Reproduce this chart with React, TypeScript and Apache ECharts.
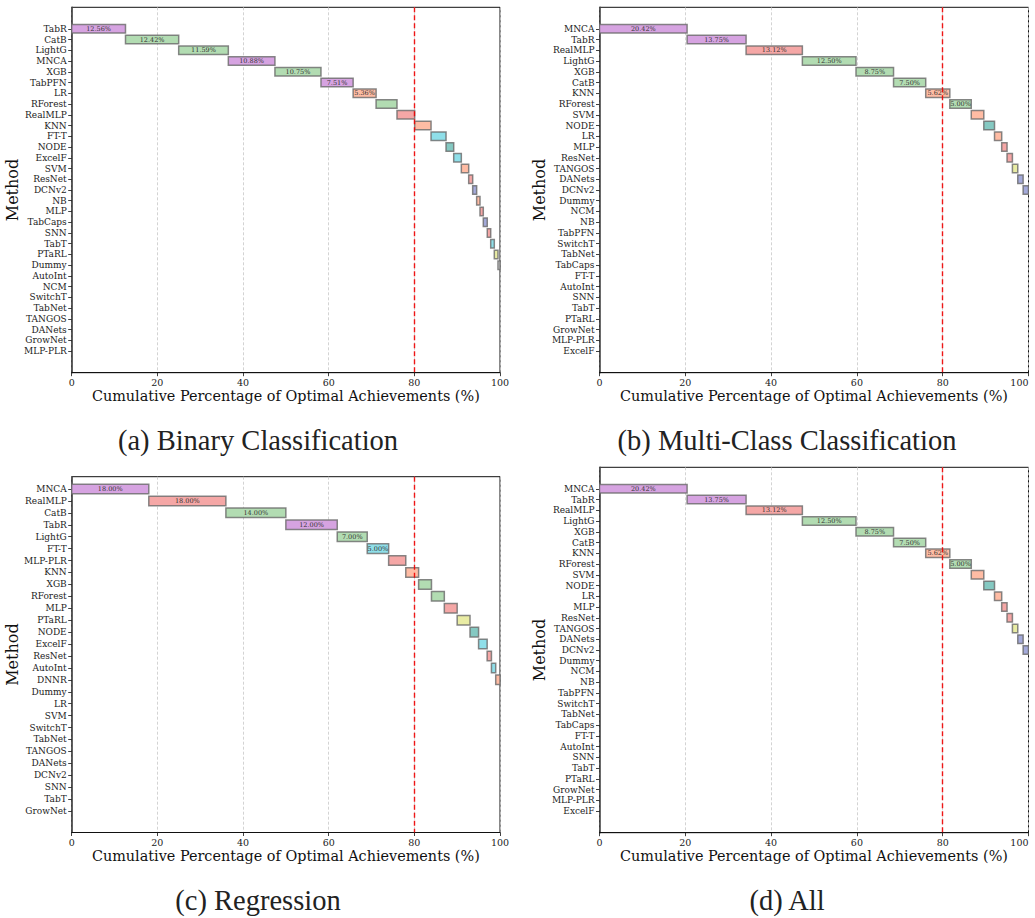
import React, { useEffect, useRef } from 'react';
import * as echarts from 'echarts';

// ---------- data ----------
const binaryMethods = ['TabR','CatB','LightG','MNCA','XGB','TabPFN','LR','RForest','RealMLP','KNN','FT-T','NODE','ExcelF','SVM','ResNet','DCNv2','NB','MLP','TabCaps','SNN','TabT','PTaRL','Dummy','AutoInt','NCM','SwitchT','TabNet','TANGOS','DANets','GrowNet','MLP-PLR'];
const binaryValues = [12.56,12.42,11.59,10.88,10.75,7.51,5.36,4.88,4.13,3.82,3.50,1.79,1.78,1.72,0.93,0.93,0.78,0.77,0.93,0.80,0.84,0.86,0.47,0,0,0,0,0,0,0,0];

const multiMethods = ['MNCA','TabR','RealMLP','LightG','XGB','CatB','KNN','RForest','SVM','NODE','LR','MLP','ResNet','TANGOS','DANets','DCNv2','Dummy','NCM','NB','TabPFN','SwitchT','TabNet','TabCaps','FT-T','AutoInt','SNN','TabT','PTaRL','GrowNet','MLP-PLR','ExcelF'];
const multiValues = [20.42,13.75,13.12,12.50,8.75,7.50,5.62,5.00,2.92,2.50,1.67,1.25,1.25,1.25,1.25,1.25,0,0,0,0,0,0,0,0,0,0,0,0,0,0,0];

const regMethods = ['MNCA','RealMLP','CatB','TabR','LightG','FT-T','MLP-PLR','KNN','XGB','RForest','MLP','PTaRL','NODE','ExcelF','ResNet','AutoInt','DNNR','Dummy','LR','SVM','SwitchT','TabNet','TANGOS','DANets','DCNv2','SNN','TabT','GrowNet'];
const regValues = [18,18,14,12,7,5,4,3,3,3,3,3,2,2,1,1,1,0,0,0,0,0,0,0,0,0,0,0];

const allMethods = ['MNCA','TabR','RealMLP','LightG','XGB','CatB','KNN','RForest','SVM','NODE','LR','MLP','ResNet','TANGOS','DANets','DCNv2','Dummy','NCM','NB','TabPFN','SwitchT','TabNet','TabCaps','FT-T','AutoInt','SNN','TabT','PTaRL','GrowNet','MLP-PLR','ExcelF'];
const allValues = [20.42,13.75,13.12,12.50,8.75,7.50,5.62,5.00,2.92,2.50,1.67,1.25,1.25,1.25,1.25,1.25,0,0,0,0,0,0,0,0,0,0,0,0,0,0,0];

const xTicks = [0, 20, 40, 60, 80, 100];
const threshold = 80;
const captions = ['(a) Binary Classification', '(b) Multi-Class Classification', '(c) Regression', '(d) All'];

// ---------- styles ----------
const PURPLE = '#d6a3e1';
const GREEN = '#b2dcb2';
const PINK = '#f5a7a6';
const SALMON = '#ffbca4';
const CYAN = '#8fdfe9';
const TEAL = '#85c9c2';
const BLUE = '#a4aada';
const YELLOW = '#e9eca4';
const GRAY = '#e2e2e2';

const colorOf: Record<string, string> = {
  MNCA: PURPLE, TabR: PURPLE, TabPFN: PURPLE,
  CatB: GREEN, LightG: GREEN, XGB: GREEN, RForest: GREEN,
  RealMLP: PINK, MLP: PINK, ResNet: PINK, SNN: PINK, 'MLP-PLR': PINK,
  LR: SALMON, KNN: SALMON, SVM: SALMON, NB: SALMON, DNNR: SALMON,
  'FT-T': CYAN, ExcelF: CYAN, TabT: CYAN, AutoInt: CYAN,
  NODE: TEAL,
  DCNv2: BLUE, TabCaps: BLUE, DANets: BLUE,
  PTaRL: YELLOW, TANGOS: YELLOW,
  Dummy: GRAY,
};

const SERIF = '"DejaVu Serif", serif';

const panels = [
  { methods: binaryMethods, values: binaryValues, left: 71.7, top: 7.3, width: 428.3, height: 365.4, ymin: -2, ymax: 32, rightEdge: false },
  { methods: multiMethods, values: multiValues, left: 599.5, top: 7.3, width: 429, height: 365.4, ymin: -2, ymax: 32, rightEdge: true },
  { methods: regMethods, values: regValues, left: 71.7, top: 476.7, width: 428.3, height: 355.8, ymin: -1.03, ymax: 28.8, rightEdge: false },
  { methods: allMethods, values: allValues, left: 599.5, top: 467.3, width: 429, height: 365.4, ymin: -2, ymax: 32, rightEdge: true },
];

const captionPos = [
  { x: 258, y: 440 },
  { x: 787, y: 440 },
  { x: 258, y: 900 },
  { x: 787, y: 900 },
];

function buildOption() {
  const grid: any[] = [];
  const xAxis: any[] = [];
  const yAxis: any[] = [];
  const series: any[] = [];

  panels.forEach((p, gi) => {
    grid.push({
      left: p.left, top: p.top, width: p.width, height: p.height,
      containLabel: false, outerBoundsMode: 'none',
      show: true, borderColor: '#111', borderWidth: 1, backgroundColor: 'transparent',
    });
    xAxis.push({
      type: 'value', gridIndex: gi, min: xTicks[0], max: xTicks[xTicks.length - 1], interval: 20,
      axisLine: { show: true, onZero: false, lineStyle: { color: '#111', width: 1 } },
      axisTick: { show: true, length: 3.5, lineStyle: { color: '#111', width: 0.8 } },
      axisLabel: {
        fontSize: 9.5, color: '#222', fontFamily: SERIF, margin: 4.5,
        alignMaxLabel: p.rightEdge ? 'right' : 'center',
      },
      splitLine: { show: true, lineStyle: { color: '#c8c8c8', type: [3, 2], width: 0.8 } },
      name: 'Cumulative Percentage of Optimal Achievements (%)',
      nameLocation: 'middle', nameGap: 16,
      nameTextStyle: { fontSize: 14.4, fontFamily: SERIF, color: '#111', verticalAlign: 'top' },
    });
    const idx = p.methods.map((_, i) => i);
    yAxis.push({
      type: 'value', gridIndex: gi, inverse: true, min: p.ymin, max: p.ymax,
      axisLine: { show: true, onZero: false, lineStyle: { color: '#444', width: 1.6 } },
      axisTick: { show: true, customValues: idx, length: 3.5, lineStyle: { color: '#111', width: 0.8 } },
      axisLabel: {
        customValues: idx, fontSize: 9, color: '#222', fontFamily: SERIF, margin: 5,
        formatter: (v: number) => p.methods[Math.round(v)] ?? '',
      },
      splitLine: { show: false },
      name: 'Method', nameLocation: 'middle', nameGap: 42,
      nameTextStyle: { fontSize: 16, fontFamily: SERIF, color: '#111' },
    });

    const data: any[] = [];
    let cum = 0;
    p.methods.forEach((m, i) => {
      const v = p.values[i];
      if (v > 0) data.push([cum, cum + v, i, v]);
      cum += v;
    });
    const names = data.map((d) => p.methods[d[2]]);

    series.push({
      type: 'custom', xAxisIndex: gi, yAxisIndex: gi, data,
      encode: { x: [0, 1], y: 2 },
      clip: true,
      renderItem: (params: any, api: any) => {
        const start = api.value(0);
        const end = api.value(1);
        const row = api.value(2);
        const v = api.value(3);
        const a = api.coord([start, row - 0.4]);
        const b = api.coord([end, row + 0.4]);
        const x = Math.min(a[0], b[0]);
        const y = Math.min(a[1], b[1]);
        const w = Math.abs(b[0] - a[0]);
        const h = Math.abs(b[1] - a[1]);
        const name = names[params.dataIndex];
        const children: any[] = [
          {
            type: 'rect',
            shape: { x, y, width: w, height: h },
            style: { fill: colorOf[name] || GRAY, stroke: 'rgba(105,105,105,0.8)', lineWidth: 1.5 },
          },
        ];
        if (v >= 5) {
          children.push({
            type: 'text',
            x: x + w / 2, y: y + h / 2,
            style: {
              text: v.toFixed(2) + '%', fontSize: 6.5, fontFamily: SERIF, fill: '#333',
              align: 'center', verticalAlign: 'middle',
            },
          });
        }
        return { type: 'group', children };
      },
      markLine: {
        silent: true, symbol: 'none', animation: false,
        label: { show: false },
        lineStyle: { color: 'rgba(240,0,0,0.9)', type: [5, 3], width: 1.4 },
        data: [{ xAxis: threshold }],
      },
      z: 3,
    });
  });

  const graphic = captions.map((c, i) => ({
    type: 'text', x: captionPos[i].x, y: captionPos[i].y,
    style: {
      text: c, fontSize: 28.5, fontFamily: '"Liberation Serif", serif', fill: '#222',
      align: 'center', verticalAlign: 'middle', textAlign: 'center', textVerticalAlign: 'middle',
    },
  }));

  return { animation: false, grid, xAxis, yAxis, series, graphic };
}

export default function App() {
  const ref = useRef<HTMLDivElement>(null);
  useEffect(() => {
    if (!ref.current) return;
    const chart = echarts.init(ref.current, undefined, { renderer: 'svg' });
    chart.setOption(buildOption() as any);
    return () => chart.dispose();
  }, []);
  return (
    <div
      ref={ref}
      style={{ position: 'fixed', left: 0, top: 0, width: 1035, height: 918, background: '#fff' }}
    />
  );
}
